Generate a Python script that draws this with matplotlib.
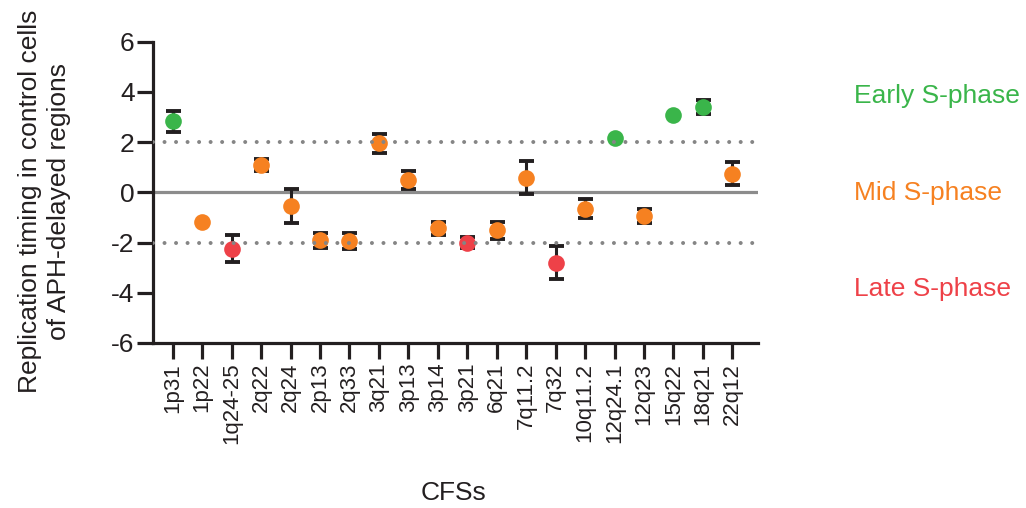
import matplotlib
matplotlib.use("Agg")
import matplotlib.pyplot as plt
import numpy as np

plt.rcParams["font.family"] = ["Liberation Sans", "DejaVu Sans"]
plt.rcParams["axes.unicode_minus"] = False

# Common fragile sites and their replication timing in control cells
cfs = ["1p31", "1p22", "1q24-25", "2q22", "2q24", "2p13", "2q33", "3q21",
       "3p13", "3p14", "3p21", "6q21", "7q11.2", "7q32", "10q11.2",
       "12q24.1", "12q23", "15q22", "18q21", "22q12"]
timing = [2.83, -1.20, -2.25, 1.08, -0.54, -1.92, -1.93, 1.95,
          0.50, -1.44, -2.01, -1.52, 0.58, -2.80, -0.65,
          2.15, -0.93, 3.06, 3.40, 0.74]
timing_sd = [0.42, 0.00, 0.54, 0.24, 0.67, 0.28, 0.32, 0.37,
             0.36, 0.26, 0.22, 0.33, 0.65, 0.65, 0.37,
             0.00, 0.28, 0.00, 0.28, 0.47]
phase = ["Early", "Mid", "Late", "Mid", "Mid", "Mid", "Mid", "Mid",
         "Mid", "Mid", "Late", "Mid", "Mid", "Late", "Mid",
         "Early", "Mid", "Early", "Early", "Mid"]

phase_labels = ["Early S-phase", "Mid S-phase", "Late S-phase"]
phase_colors = {"Early": "#3ab54a", "Mid": "#f68121", "Late": "#ee4148"}
thresholds = [2, -2]

ink = "#231f20"
fs = 19

fig = plt.figure(figsize=(10.26, 5.08), dpi=100)
ax = fig.add_axes([152.5 / 1026, 1 - 343 / 508, (758 - 152.5) / 1026, (343 - 41.5) / 508])

x = np.arange(len(cfs))
x_left = -0.686
x_right = 19.87

# reference line at zero
ax.plot([x_left, x_right], [0, 0], color="#8c8c8c", lw=2.3, zorder=1,
        solid_capstyle="butt")

# error bars behind the markers
ax.errorbar(x, timing, yerr=timing_sd, fmt="none", ecolor=ink, elinewidth=2.2,
            capsize=5.4, capthick=2.8, zorder=2)

for xi, yi, ph in zip(x, timing, phase):
    ax.plot(xi, yi, "o", ms=12, color=phase_colors[ph], mec="none", zorder=3)

# early / late thresholds
for t in thresholds:
    ax.plot([x_left, x_right], [t, t], color="#858585", lw=2.9,
            linestyle=(0, (0.001, 2.86)), dash_capstyle="round", zorder=4)

ax.set_xlim(x_left, x_right)
ax.set_ylim(-6, 6)
ax.set_yticks(np.arange(-6, 7, 2))
ax.set_xticks(x)
ax.set_xticklabels(cfs, rotation=90, ha="center", va="top")

for side in ["top", "right"]:
    ax.spines[side].set_visible(False)
for side in ["left", "bottom"]:
    ax.spines[side].set_linewidth(2.3)
    ax.spines[side].set_color(ink)
    ax.spines[side].set_capstyle("projecting")

ax.tick_params(axis="both", direction="out", length=11.3, width=2.3,
               color=ink, labelcolor=ink)
ax.tick_params(axis="y", labelsize=fs, pad=1.5)
ax.tick_params(axis="x", labelsize=16, pad=3)

# phase labels on the right
label_y = [3.56, -0.29, -4.13]
for lab, ly, ph in zip(phase_labels, label_y, ["Early", "Mid", "Late"]):
    ax.text(1.1586, ly, lab, transform=ax.get_yaxis_transform(),
            color=phase_colors[ph], fontsize=fs, ha="left", va="baseline")

fig.text(44.5 / 1026, 1 - 201.5 / 508,
         "Replication timing in control cells\nof APH-delayed regions",
         rotation=90, ha="center", va="center", multialignment="center",
         fontsize=fs, color=ink, linespacing=1.3)
fig.text(453 / 1026, 1 - 493 / 508, "CFSs", ha="center", va="center",
         fontsize=fs, color=ink)

fig.savefig("out.png", dpi=100)
